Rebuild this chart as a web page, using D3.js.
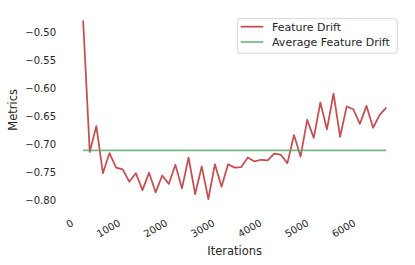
<!DOCTYPE html>
<html>
<head>
<meta charset="utf-8">
<script src="https://cdn.jsdelivr.net/npm/d3@7"></script>
<style>
  body { margin: 0; background: #fff; }
  text { font-family: "DejaVu Sans", sans-serif; fill: #262626; }
</style>
</head>
<body>
<div id="chart"></div>
<script>
var width = 415, height = 265;
var margin = {top: 11.6, right: 13.6, bottom: 57, left: 68};

// iterations on the x axis
var iterations = [200, 340, 480, 620, 760, 900, 1040, 1180, 1320, 1460, 1600, 1740,
  1880, 2020, 2160, 2300, 2440, 2580, 2720, 2860, 3000, 3140, 3280, 3420, 3560,
  3700, 3840, 3980, 4120, 4260, 4400, 4540, 4680, 4820, 4960, 5100, 5240, 5380,
  5520, 5660, 5800, 5940, 6080, 6220, 6360, 6500, 6640];

var featureDrift = [-0.479, -0.713, -0.667, -0.751, -0.715, -0.741, -0.744, -0.766,
  -0.751, -0.781, -0.750, -0.785, -0.755, -0.770, -0.736, -0.778, -0.723, -0.788,
  -0.739, -0.797, -0.735, -0.775, -0.735, -0.741, -0.740, -0.723, -0.730, -0.727,
  -0.728, -0.716, -0.718, -0.733, -0.683, -0.721, -0.656, -0.688, -0.625, -0.673,
  -0.609, -0.686, -0.632, -0.637, -0.663, -0.631, -0.670, -0.647, -0.634];

var xTicks = [0, 1000, 2000, 3000, 4000, 5000, 6000];
var yTicks = [-0.80, -0.75, -0.70, -0.65, -0.60, -0.55, -0.50];
var seriesNames = ["Feature Drift", "Average Feature Drift"];
var seriesColors = ["#c44e52", "#55a868"];

var avgDrift = d3.mean(featureDrift);

var svg = d3.select("#chart")
  .append("svg")
  .attr("width", width)
  .attr("height", height);

// matplotlib style 5% margins around the data
function padded(ext) {
  var m = (ext[1] - ext[0]) * 0.05;
  return [ext[0] - m, ext[1] + m];
}

var x = d3.scaleLinear()
  .domain(padded(d3.extent(iterations)))
  .range([margin.left, width - margin.right]);

var y = d3.scaleLinear()
  .domain(padded(d3.extent(featureDrift)))
  .range([height - margin.bottom, margin.top]);

var fmt = d3.format(".2f");

// y tick labels (no spines, no tick marks)
svg.append("g")
  .selectAll("text")
  .data(yTicks)
  .enter().append("text")
  .attr("x", 56)
  .attr("y", function(d) { return y(d); })
  .attr("dy", "0.36em")
  .attr("text-anchor", "end")
  .style("font-size", "10px")
  .text(function(d) { return fmt(d); });

// x tick labels, rotated like autofmt_xdate
svg.append("g")
  .selectAll("text")
  .data(xTicks)
  .enter().append("text")
  .attr("transform", function(d) {
    return "translate(" + (x(d) + 0.5) + "," + (height - margin.bottom + 17) + ") rotate(-30)";
  })
  .attr("text-anchor", "end")
  .style("font-size", "10px")
  .text(function(d) { return d; });

// axis titles
svg.append("text")
  .attr("x", (margin.left + width - margin.right) / 2)
  .attr("y", 255)
  .attr("text-anchor", "middle")
  .style("font-size", "11.5px")
  .text("Iterations");

svg.append("text")
  .attr("transform", "translate(17," + ((margin.top + height - margin.bottom) / 2) + ") rotate(-90)")
  .attr("text-anchor", "middle")
  .style("font-size", "11.5px")
  .text("Metrics");

var line = d3.line()
  .x(function(d, i) { return x(iterations[i]); })
  .y(function(d) { return y(d); });

svg.append("path")
  .datum(featureDrift)
  .attr("fill", "none")
  .attr("stroke", seriesColors[0])
  .attr("stroke-width", 1.75)
  .attr("stroke-linejoin", "round")
  .attr("d", line);

svg.append("path")
  .datum(iterations.map(function() { return avgDrift; }))
  .attr("fill", "none")
  .attr("stroke", seriesColors[1])
  .attr("stroke-opacity", 0.8)
  .attr("stroke-width", 1.75)
  .attr("d", line);

// legend
var legend = svg.append("g").attr("transform", "translate(237.3,18.7)");

legend.append("rect")
  .attr("width", 160)
  .attr("height", 34.6)
  .attr("rx", 3)
  .attr("fill", "#fff")
  .attr("fill-opacity", 0.8)
  .attr("stroke", "#cccccc")
  .attr("stroke-width", 0.8);

var entry = legend.selectAll("g.entry")
  .data(seriesNames)
  .enter().append("g")
  .attr("class", "entry")
  .attr("transform", function(d, i) { return "translate(0," + (8 + i * 15.3) + ")"; });

entry.append("line")
  .attr("x1", 3.4).attr("x2", 26)
  .attr("stroke", function(d, i) { return seriesColors[i]; })
  .attr("stroke-opacity", function(d, i) { return i ? 0.8 : 1; })
  .attr("stroke-width", 1.75);

entry.append("text")
  .attr("x", 34.7)
  .attr("dy", "0.36em")
  .style("font-size", "11px")
  .text(function(d) { return d; });
</script>
</body>
</html>
